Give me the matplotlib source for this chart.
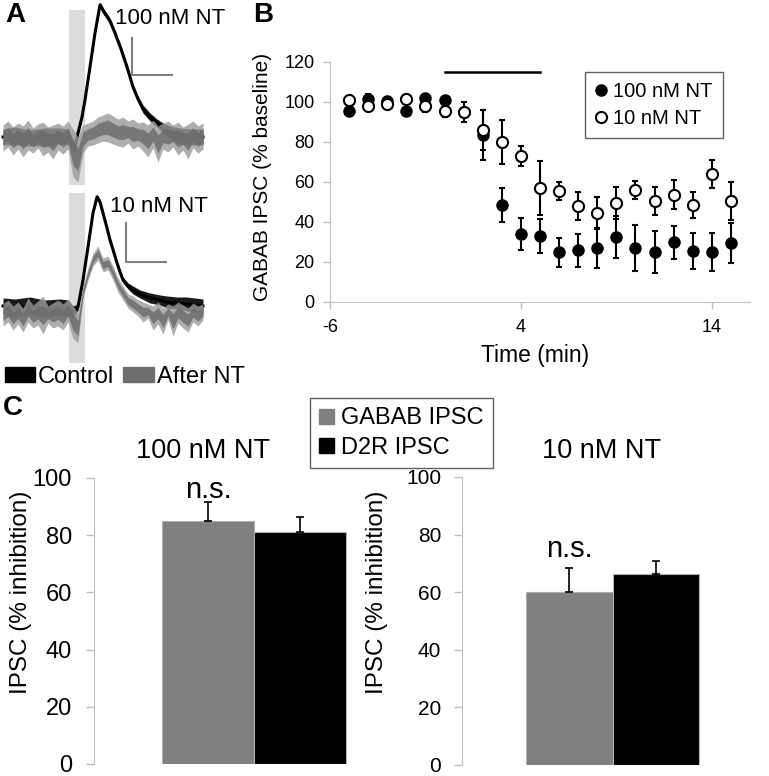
"""
plot.py - neurotensin figure: example traces (A), time course (B), bar summary (C).
"""

import numpy as np
import matplotlib
matplotlib.use("Agg")
import matplotlib.pyplot as plt
from matplotlib.patches import Patch
from matplotlib.lines import Line2D

plt.rcParams["font.family"] = ["Liberation Sans", "DejaVu Sans"]
plt.rcParams["axes.unicode_minus"] = False

W, H = 769, 776

# ---------------- Panel A: example traces (arbitrary units, baseline = 0) ----------------
# 100 nM NT, control trace (centre + noise half width)
ctrl100_x = [3, 15, 30, 45, 60, 68, 72, 75, 78, 82, 85, 90, 95, 100, 104, 110, 115, 121, 127,
             133, 138, 143, 150, 157, 163, 170, 175, 180, 190, 203]
ctrl100_y = [0, 1, -1, 0, 1, 0, -6, -10, 4, 20, 37, 70, 104, 132, 125, 116, 104, 88, 70,
             50, 38, 28, 20, 14, 9, 5, 3, 1, 0, 0]
ctrl100_hw = [8, 9, 8, 9, 8, 8, 6, 5, 2, 2, 2, 2, 2, 3, 3, 3, 3, 3, 3,
              3, 3, 4, 4, 4, 5, 6, 7, 8, 8, 8]

# after-NT traces, sampled noise envelopes
after_x = [3, 8, 13, 18, 23, 28, 33, 38, 43, 48, 53, 58, 63, 68, 73, 78, 83, 88, 93, 98, 103,
           108, 113, 118, 123, 128, 133, 138, 143, 148, 153, 158, 163, 168, 173, 178, 183, 188,
           193, 198, 203]
after100_up = [12, 16, 10, 14, 11, 17, 9, 13, 15, 10, 12, 14, 11, 16, 8, 0, 12, 14, 16, 20, 22,
               24, 21, 18, 20, 16, 18, 14, 15, 12, 17, 11, 14, 16, 12, 15, 10, 13, 16, 11, 14]
after100_lo = [-14, -10, -18, -12, -20, -13, -16, -11, -19, -15, -22, -13, -17, -12, -40, -45, -16,
               -9, -8, -6, -4, -5, -7, -9, -10, -6, -12, -9, -14, -20, -11, -25, -12, -15, -10,
               -18, -13, -22, -11, -16, -12]

# 10 nM NT, control trace
ctrl10_x = [3, 15, 30, 45, 60, 68, 73, 78, 83, 88, 93, 97, 100, 103, 107, 110, 114, 117, 120,
            123, 128, 133, 140, 150, 160, 167, 177, 187, 195, 203]
ctrl10_y = [2, 0, 3, -1, 1, 0, -4, 1, 28, 61, 95, 111, 106, 95, 80, 68, 55, 45, 36,
            28, 22, 18, 14, 10, 8, 6, 5, 4, 3, 2]
ctrl10_hw = [8, 9, 8, 9, 8, 8, 6, 3, 2, 2, 2, 3, 3, 3, 3, 3, 3, 3, 3,
             3, 3, 4, 4, 5, 5, 6, 6, 7, 7, 7]
after10_up = [4, 8, 2, 6, 0, 10, 3, 7, 12, 2, 5, 8, 4, 9, 2, -5, 22, 40, 55, 62, 50,
              52, 42, 30, 22, 14, 12, 8, 6, 4, 2, 6, 0, 4, 2, 6, 3, 0, 5, 2, 4]
after10_lo = [-18, -14, -22, -16, -24, -14, -20, -17, -26, -15, -20, -18, -22, -14, -30, -35, 10,
              28, 42, 48, 36, 38, 28, 16, 8, 0, -4, -8, -14, -10, -22, -16, -26, -12, -28, -15,
              -20, -24, -14, -18, -12]

STIM_WINDOW = (69, 85)

# ---------------- Panel B: time course ----------------
times = [-5, -4, -3, -2, -1, 0, 1, 2, 3, 4, 5, 6, 7, 8, 9, 10, 11, 12, 13, 14, 15]
nt100 = [95.3, 101.7, 100.5, 95.7, 102, 100.8, 95, 83.3, 48.7, 33.8, 33, 24.8, 25.8, 27,
         32.3, 27, 24.8, 29.8, 25.5, 25.2, 29.5]
nt100_err = [1.5, 2.5, 1, 1.5, 1.5, 1.5, 2, 12.5, 8.5, 8, 8.7, 7.3, 8.3, 9.8, 10.5, 11.5,
             10.5, 8.3, 9, 9.5, 10]
nt10 = [100.8, 98, 98.8, 101.7, 97.8, 95.5, 95, 86.2, 80, 72.8, 57, 55.5, 48.2, 44.5, 49.5,
        56, 50.5, 53.7, 48.7, 64.2, 50.5]
nt10_err = [1.5, 2, 1.5, 1.5, 3, 3, 5, 10, 10.8, 5, 13.5, 4.5, 7, 8, 7.8, 4.5, 7, 7.2, 6.5,
            7, 9.5]
drug_on, drug_off, drug_bar_level = 0, 5, 115

# ---------------- Panel C: summary bars ----------------
bar_labels = ["GABAB IPSC", "D2R IPSC"]
inhib_100 = [85, 81]
inhib_100_err = [6.6, 5.4]
inhib_10 = [60.2, 66.3]
inhib_10_err = [8.2, 4.4]

SPINE = "#c0c0c0"
GRAY = "#808080"


def rect(x0, y0, x1, y1):
    """Pixel box -> figure fraction [left, bottom, width, height]."""
    return [x0 / W, 1 - y1 / H, (x1 - x0) / W, (y1 - y0) / H]


def draw_traces(ax, cx, cy, chw, up, lo, band):
    ax.axvspan(*STIM_WINDOW, ymin=band[0], ymax=band[1], color="#dcdcdc", lw=0, zorder=0)
    cy = np.array(cy)
    chw = np.array(chw)
    ax.fill_between(cx, cy - chw, cy + chw, color="#1a1a1a", lw=0, zorder=1)
    ax.plot(cx, cy, color="black", lw=2.2, zorder=2)
    # noisy after-NT trace: light outer envelope, darker dense core
    up = np.array(up)
    lo = np.array(lo)
    mid = (up + lo) / 2
    half = (up - lo) / 2
    ax.fill_between(after_x, lo, up, color="#9a9a9a", alpha=0.8, lw=0, zorder=3)
    ax.fill_between(after_x, mid - 0.5 * half, mid + 0.5 * half, color="#6a6a6a",
                    alpha=0.8, lw=0, zorder=4)
    ax.set_xlim(0, 210)
    ax.axis("off")


fig = plt.figure(figsize=(W / 100, H / 100), dpi=100)

# A top
axA1 = fig.add_axes(rect(0, 0, 210, 190))
draw_traces(axA1, ctrl100_x, ctrl100_y, ctrl100_hw, after100_up, after100_lo, (0.026, 0.947))
axA1.set_ylim(-53, 137)
axA1.plot([132, 132, 172], [99, 62, 62], color=GRAY, lw=1.5)

# A bottom
axA2 = fig.add_axes(rect(0, 180, 210, 370))
draw_traces(axA2, ctrl10_x, ctrl10_y, ctrl10_hw, after10_up, after10_lo, (0.037, 0.93))
axA2.set_ylim(-62, 128)
axA2.plot([126, 126, 166], [85, 46, 46], color=GRAY, lw=1.5)

fig.text(115 / W, 1 - 18 / H, "100 nM NT", fontsize=16, va="center")
fig.text(110 / W, 1 - 207 / H, "10 nM NT", fontsize=16, va="center")
fig.legend(handles=[Patch(color="black", label="Control"), Patch(color="#6e6e6e", label="After NT")],
           loc="center left", bbox_to_anchor=(0.0, 1 - 377 / H), ncol=2, frameon=False,
           fontsize=17, handlelength=1.3, handleheight=0.6, handletextpad=0.1,
           columnspacing=0.4, borderaxespad=0, borderpad=0.2)

# B
axB = fig.add_axes(rect(330, 62, 750, 302))
axB.errorbar(times, nt100, yerr=nt100_err, fmt="o", color="black", ms=8, mfc="black",
             mec="black", elinewidth=1.5, capsize=2, capthick=1.5, zorder=2)
axB.errorbar(times, nt10, yerr=nt10_err, fmt="o", color="black", ms=8, mfc="white",
             mec="black", mew=1.5, elinewidth=1.5, capsize=2, capthick=1.5, zorder=3)
axB.plot([drug_on, drug_off], [drug_bar_level] * 2, color="black", lw=1.8)
axB.set_xlim(-6, 16)
axB.set_ylim(0, 120)
axB.set_xticks([-6, 4, 14])
axB.set_yticks(range(0, 121, 20))
for s in ["top", "right"]:
    axB.spines[s].set_visible(False)
for s in ["left", "bottom"]:
    axB.spines[s].set_color(SPINE)
axB.tick_params(colors=SPINE, labelcolor="black", labelsize=13, length=5, width=1)
axB.tick_params(axis="x", pad=7)
axB.tick_params(axis="y", pad=6)
axB.set_ylabel("GABAB IPSC (% baseline)", fontsize=15)
axB.yaxis.set_label_coords(-0.138, 0.52)
axB.set_xlabel("Time (min)", fontsize=16.5)
axB.xaxis.set_label_coords(0.488, -0.175)
legB = axB.legend(handles=[
    Line2D([], [], ls="none", marker="o", ms=8, mfc="black", mec="black", label="100 nM NT"),
    Line2D([], [], ls="none", marker="o", ms=8, mfc="white", mec="black", mew=1.5, label="10 nM NT")],
    loc="upper left", bbox_to_anchor=(585 / W, 1 - 72 / H), bbox_transform=fig.transFigure,
    fontsize=14.5, handlelength=0.6, handletextpad=0.3, labelspacing=0.4,
    fancybox=False, framealpha=1, borderaxespad=0, borderpad=0.5)
legB.get_frame().set_edgecolor("#606060")


# C
def bar_panel(box, values, errs, title, title_x, ns_y, label_x, ticksize, pad):
    ax = fig.add_axes(rect(*box))
    ax.bar([0, 1], values, width=1, color=[GRAY, "black"], edgecolor="#b0b0b0", lw=0.8)
    ax.errorbar([0, 1], values, yerr=[[0, 0], errs], fmt="none", ecolor="black",
                elinewidth=1.2, capsize=3, capthick=1.2)
    ax.text(0, ns_y, "n.s.", fontsize=21, ha="center", va="center")
    ax.set_xlim(-1.24, 1.6)
    ax.set_ylim(0, 100)
    ax.set_xticks([])
    ax.set_yticks(range(0, 101, 20))
    for s in ["top", "right", "bottom"]:
        ax.spines[s].set_visible(False)
    ax.spines["left"].set_color(SPINE)
    ax.tick_params(axis="y", colors=SPINE, labelcolor="black", labelsize=ticksize,
                   length=6, width=1, pad=pad)
    ax.set_ylabel("IPSC (% inhibition)", fontsize=17.5)
    ax.yaxis.set_label_coords(label_x, 0.6)
    fig.text(title_x / W, 1 - 451 / H, title, fontsize=19.5, ha="center", va="center")
    return ax


bar_panel((94, 478, 355, 764), inhib_100, inhib_100_err, "100 nM NT", 203, 95.8, -0.238, 17, 10)
bar_panel((462, 477, 708, 765), inhib_10, inhib_10_err, "10 nM NT", 602, 75, -0.30, 15, 9)

legC = fig.legend(handles=[Patch(color=GRAY, label=bar_labels[0]),
                           Patch(color="black", label=bar_labels[1])],
                  loc="upper left", bbox_to_anchor=(310 / W, 1 - 398 / H), fontsize=17,
                  handlelength=0.6, handleheight=0.6, handletextpad=0.3, labelspacing=0.3,
                  fancybox=False, framealpha=1, borderaxespad=0, borderpad=0.4)
legC.get_frame().set_edgecolor("#606060")

# panel letters
for x, y, letter in [(5, 15, "A"), (253, 15, "B"), (3, 408, "C")]:
    fig.text(x / W, 1 - y / H, letter, fontsize=20, fontweight="bold", va="center")

plt.savefig("out.png", dpi=100)
print("Saved: out.png")
